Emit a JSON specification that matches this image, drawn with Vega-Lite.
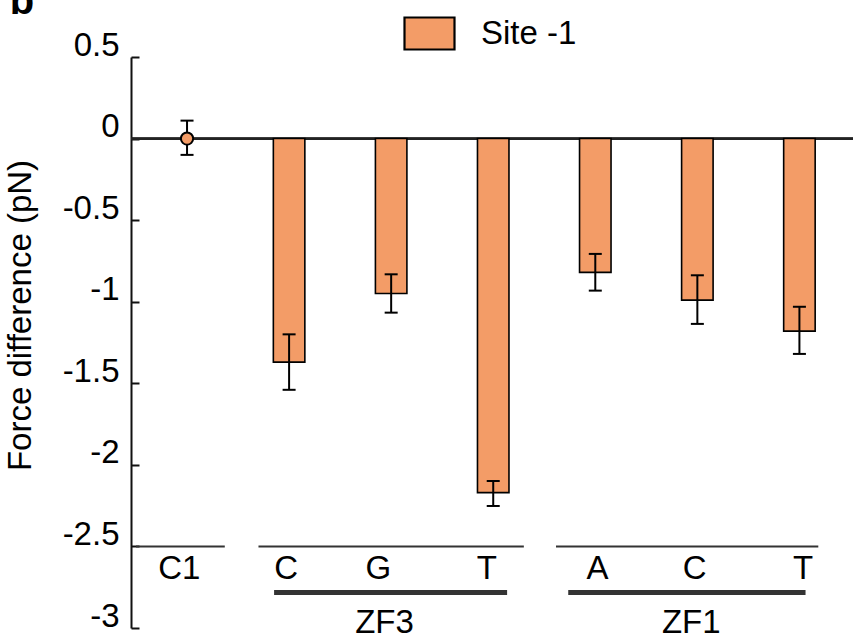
{
  "$schema": "https://vega.github.io/schema/vega-lite/v6.json",
  "autosize": {"type": "none"},
  "width": 722,
  "height": 571,
  "padding": {"left": 131, "top": 57, "right": 0, "bottom": 14},
  "background": "white",
  "config": {"font": "Liberation Sans", "view": {"stroke": null}},
  "datasets": {
    "bars": [
      {"pos": 0, "lx": -0.075, "label": "C1", "kind": "point", "series": "Site -1", "value": 0, "lo": -0.1, "hi": 0.11},
      {"pos": 1, "lx": 0.972, "label": "C", "kind": "bar", "series": "Site -1", "value": -1.37, "lo": -1.54, "hi": -1.2},
      {"pos": 2, "lx": 1.874, "label": "G", "kind": "bar", "series": "Site -1", "value": -0.95, "lo": -1.067, "hi": -0.832},
      {"pos": 3, "lx": 2.937, "label": "T", "kind": "bar", "series": "Site -1", "value": -2.17, "lo": -2.252, "hi": -2.099},
      {"pos": 4, "lx": 4.022, "label": "A", "kind": "bar", "series": "Site -1", "value": -0.82, "lo": -0.932, "hi": -0.707},
      {"pos": 5, "lx": 4.973, "label": "C", "kind": "bar", "series": "Site -1", "value": -0.99, "lo": -1.136, "hi": -0.838},
      {"pos": 6, "lx": 6.036, "label": "T", "kind": "bar", "series": "Site -1", "value": -1.18, "lo": -1.32, "hi": -1.031}
    ],
    "groups": [
      {"kind": "thin", "x1": -0.5, "x2": 0.37, "y": -2.5},
      {"kind": "thin", "x1": 0.7, "x2": 3.3, "y": -2.5},
      {"kind": "thin", "x1": 3.615, "x2": 6.185, "y": -2.5},
      {"kind": "thick", "x1": 0.853, "x2": 3.136, "y": -2.783},
      {"kind": "thick", "x1": 3.735, "x2": 6.06, "y": -2.783}
    ],
    "grouplabels": [
      {"name": "ZF3", "x": 1.935, "y": -2.97},
      {"name": "ZF1", "x": 4.94, "y": -2.97}
    ],
    "panel": [
      {"name": "b", "x": -1.737, "y": 0.764}
    ]
  },
  "encoding": {
    "x": {"type": "quantitative", "scale": {"domain": [-0.5, 6.476], "nice": false, "zero": false}, "axis": null}
  },
  "layer": [
    {
      "data": {"name": "bars"},
      "mark": {"type": "rule", "color": "#222222", "strokeWidth": 1.8},
      "encoding": {"y": {"datum": 0, "type": "quantitative", "scale": {"domain": [-3, 0.5], "nice": false, "zero": false},
        "axis": {"values": [0.5, 0, -0.5, -1, -1.5, -2, -2.5, -3], "labelExpr": "'' + datum.value", "grid": false,
          "domainColor": "#111111", "domainWidth": 2, "tickColor": "#111111", "tickWidth": 2, "tickSize": -8,
          "labelFont": "Liberation Sans", "labelFontSize": 33, "labelColor": "black", "labelPadding": 20, "labelOffset": -12, "labelBaseline": "middle",
          "title": "Force difference (pN)", "titleFont": "Liberation Sans", "titleFontSize": 33, "titleFontWeight": "normal", "titleColor": "black",
          "titleX": -111, "titleY": 258, "titleAngle": -90, "titleAlign": "center", "titleBaseline": "middle"}}}
    },
    {
      "data": {"name": "bars"},
      "transform": [{"filter": "datum.kind === 'bar'"}],
      "mark": {"type": "bar", "width": 31.5, "stroke": "black", "strokeWidth": 1.6},
      "encoding": {
        "x": {"field": "pos", "type": "quantitative"},
        "y": {"field": "value", "type": "quantitative"},
        "y2": {"datum": 0},
        "color": {"field": "series", "type": "nominal", "scale": {"range": ["#F39C67"]},
          "legend": {"title": null, "orient": "none", "legendX": 272, "legendY": -50, "padding": 0,
            "symbolType": "M-1,-0.64H1V0.64H-1Z", "symbolSize": 2500, "symbolStrokeColor": "black", "symbolStrokeWidth": 2.2, "symbolOpacity": 1,
            "labelFont": "Liberation Sans", "labelFontSize": 33, "labelColor": "black", "labelOffset": 25}}
      }
    },
    {
      "data": {"name": "bars"},
      "mark": {"type": "rule", "color": "black", "strokeWidth": 2},
      "encoding": {
        "x": {"field": "pos", "type": "quantitative"},
        "y": {"field": "lo", "type": "quantitative"},
        "y2": {"field": "hi"}
      }
    },
    {
      "data": {"name": "bars"},
      "mark": {"type": "tick", "orient": "horizontal", "color": "black", "size": 13, "thickness": 2, "opacity": 1},
      "encoding": {
        "x": {"field": "pos", "type": "quantitative"},
        "y": {"field": "lo", "type": "quantitative"}
      }
    },
    {
      "data": {"name": "bars"},
      "mark": {"type": "tick", "orient": "horizontal", "color": "black", "size": 13, "thickness": 2, "opacity": 1},
      "encoding": {
        "x": {"field": "pos", "type": "quantitative"},
        "y": {"field": "hi", "type": "quantitative"}
      }
    },
    {
      "data": {"name": "bars"},
      "transform": [{"filter": "datum.kind === 'point'"}],
      "mark": {"type": "point", "shape": "circle", "filled": true, "fill": "#F39C67", "stroke": "black", "strokeWidth": 2, "size": 150, "opacity": 1},
      "encoding": {
        "x": {"field": "pos", "type": "quantitative"},
        "y": {"field": "value", "type": "quantitative"}
      }
    },
    {
      "data": {"name": "groups"},
      "transform": [{"filter": "datum.kind === 'thin'"}],
      "mark": {"type": "rule", "color": "#333333", "strokeWidth": 2},
      "encoding": {
        "x": {"field": "x1", "type": "quantitative"},
        "x2": {"field": "x2"},
        "y": {"field": "y", "type": "quantitative"}
      }
    },
    {
      "data": {"name": "groups"},
      "transform": [{"filter": "datum.kind === 'thick'"}],
      "mark": {"type": "rule", "color": "#333333", "strokeWidth": 5},
      "encoding": {
        "x": {"field": "x1", "type": "quantitative"},
        "x2": {"field": "x2"},
        "y": {"field": "y", "type": "quantitative"}
      }
    },
    {
      "data": {"name": "bars"},
      "mark": {"type": "text", "font": "Liberation Sans", "fontSize": 33, "color": "black", "baseline": "middle", "align": "center"},
      "encoding": {
        "x": {"field": "lx", "type": "quantitative"},
        "y": {"datum": -2.638},
        "text": {"field": "label"}
      }
    },
    {
      "data": {"name": "grouplabels"},
      "mark": {"type": "text", "font": "Liberation Sans", "fontSize": 33, "color": "black", "baseline": "middle", "align": "center"},
      "encoding": {
        "x": {"field": "x", "type": "quantitative"},
        "y": {"field": "y", "type": "quantitative"},
        "text": {"field": "name"}
      }
    },
    {
      "data": {"name": "panel"},
      "mark": {"type": "text", "font": "Liberation Sans", "fontSize": 40, "fontWeight": "bold", "color": "black", "baseline": "alphabetic", "align": "left"},
      "encoding": {
        "x": {"field": "x", "type": "quantitative"},
        "y": {"field": "y", "type": "quantitative"},
        "text": {"field": "name"}
      }
    }
  ]
}
